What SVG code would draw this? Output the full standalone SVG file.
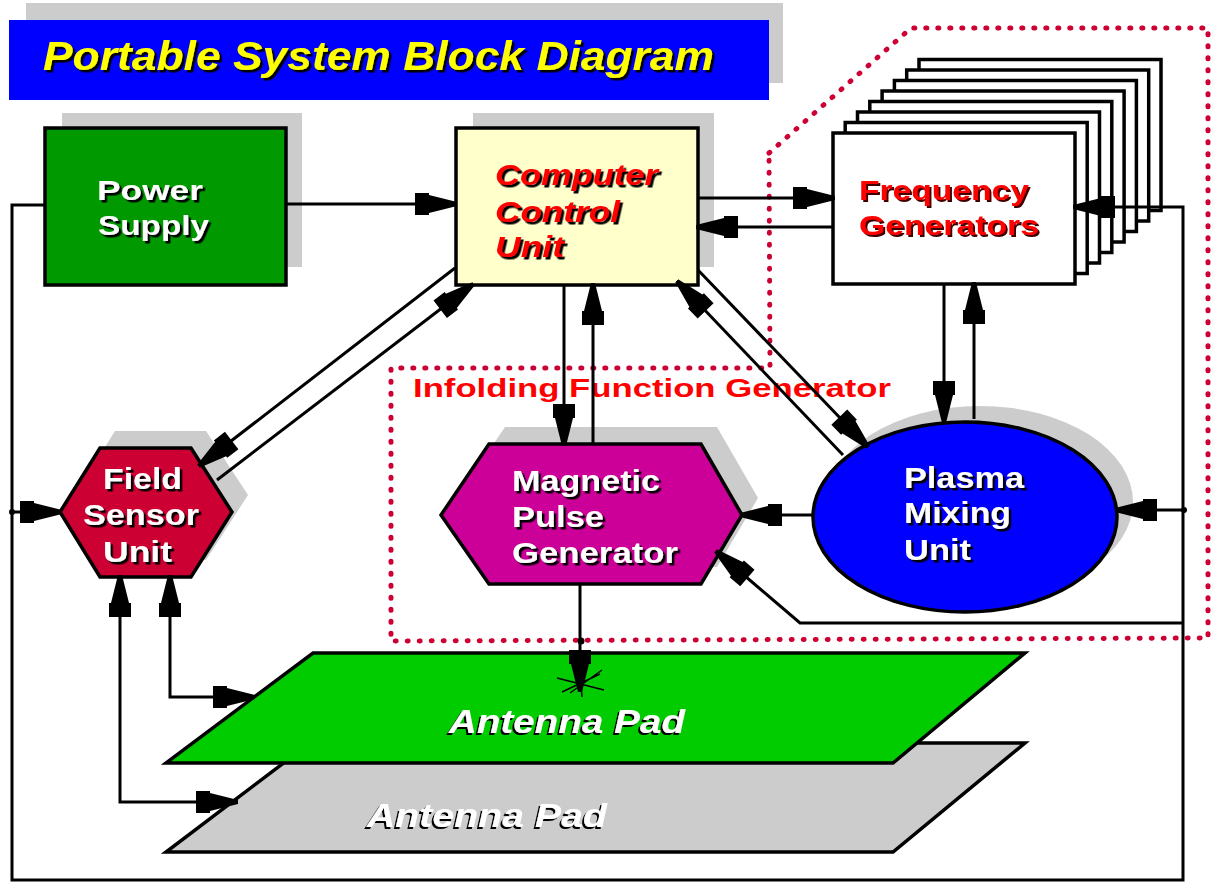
<svg xmlns="http://www.w3.org/2000/svg" width="1213" height="883" viewBox="0 0 1213 883">
<style>
text{font-family:"Liberation Sans",Arial,sans-serif;font-weight:bold}
.wt{fill:#fff}
.rd{fill:#ff0000}
.it{font-style:italic}
.ds{filter:url(#ds)}
.dl{filter:url(#dl)}
.dr{filter:url(#dr)}
.box{stroke:#000;stroke-width:3.5}
.gray{fill:#cccccc}
.conn{fill:none;stroke:#000;stroke-width:3}
.thin{fill:none;stroke:#000;stroke-width:1.5}
.dot{fill:none;stroke:#cc0033;stroke-width:5;stroke-dasharray:1 11;stroke-linecap:round}
</style>
<defs>
<filter id="ds" x="-10%" y="-20%" width="120%" height="150%"><feDropShadow dx="2.5" dy="2.5" stdDeviation="0" flood-color="#000" flood-opacity="1"/></filter>
<filter id="dr" x="-10%" y="-20%" width="120%" height="150%"><feDropShadow dx="2" dy="2" stdDeviation="0" flood-color="#400000" flood-opacity="1"/></filter>
<filter id="dl" x="-10%" y="-20%" width="120%" height="150%"><feDropShadow dx="-2" dy="2" stdDeviation="0" flood-color="#000" flood-opacity="1"/></filter>
<marker id="ah" markerUnits="userSpaceOnUse" markerWidth="46" markerHeight="26" viewBox="-44 -13 46 26" refX="0" refY="0" orient="auto-start-reverse">
<path d="M2,-2 L2,2 L-26,9 L-26,11 L-40,11 L-40,-11 L-26,-11 L-26,-9 Z" fill="#000"/>
</marker>
</defs>
<rect width="1213" height="883" fill="#fff"/>

<g id="title">
<rect x="26" y="3" width="757" height="80" class="gray"/>
<rect x="9" y="20" width="760" height="80" fill="#0000ff"/>
<text x="43" y="70" font-size="40" class="it ds" fill="#ffff00" textLength="671" lengthAdjust="spacingAndGlyphs">Portable System Block Diagram</text>
</g>

<g id="dotted-regions">
<polygon class="dot" points="769,153 911,28 1208,28 1208,638 391,641 391,368 770,368"/>
<text x="413" y="397" font-size="26" class="rd" textLength="478" lengthAdjust="spacingAndGlyphs">Infolding Function Generator</text>
</g>

<g id="power-supply">
<rect x="62" y="113" width="240" height="154" class="gray"/>
<rect x="45" y="128" width="241" height="157" fill="#009900" class="box"/>
<text x="97" y="200" font-size="28" class="wt ds" textLength="106" lengthAdjust="spacingAndGlyphs">Power</text>
<text x="98" y="235" font-size="28" class="wt ds" textLength="111" lengthAdjust="spacingAndGlyphs">Supply</text>
</g>

<g id="computer-control-unit">
<rect x="473" y="113" width="241" height="154" class="gray"/>
<rect x="456" y="128" width="242" height="157" fill="#ffffcc" class="box"/>
<text x="495" y="185" font-size="29" class="it rd ds" textLength="163" lengthAdjust="spacingAndGlyphs">Computer</text>
<text x="495" y="222" font-size="29" class="it rd ds" textLength="125" lengthAdjust="spacingAndGlyphs">Control</text>
<text x="495" y="257" font-size="29" class="it rd ds" textLength="69" lengthAdjust="spacingAndGlyphs">Unit</text>
</g>

<g id="frequency-generators">
<rect x="919" y="59.5" width="242" height="151" fill="#fff" class="box"/>
<rect x="906.7" y="70" width="242" height="151" fill="#fff" class="box"/>
<rect x="894.4" y="80.5" width="242" height="151" fill="#fff" class="box"/>
<rect x="882.1" y="91" width="242" height="151" fill="#fff" class="box"/>
<rect x="869.8" y="101.5" width="242" height="151" fill="#fff" class="box"/>
<rect x="857.5" y="112" width="242" height="151" fill="#fff" class="box"/>
<rect x="845.2" y="122.5" width="242" height="151" fill="#fff" class="box"/>
<rect x="833" y="133" width="242" height="151" fill="#fff" class="box"/>
<text x="859" y="200" font-size="28" class="rd dr" textLength="170" lengthAdjust="spacingAndGlyphs">Frequency</text>
<text x="859" y="235" font-size="28" class="rd dr" textLength="180" lengthAdjust="spacingAndGlyphs">Generators</text>
</g>

<g id="field-sensor-unit">
<polygon points="115,431 206,431 248,495 206,560 115,560 75,495" class="gray"/>
<polygon points="100,448 191,448 232,512 191,577 100,577 60,512" fill="#cc0033" class="box"/>
<text x="103" y="489" font-size="29" class="wt ds" textLength="79" lengthAdjust="spacingAndGlyphs">Field</text>
<text x="83" y="525" font-size="29" class="wt ds" textLength="116" lengthAdjust="spacingAndGlyphs">Sensor</text>
<text x="103" y="562" font-size="29" class="wt ds" textLength="69" lengthAdjust="spacingAndGlyphs">Unit</text>
</g>

<g id="magnetic-pulse-generator">
<polygon points="505,427 717,427 758,498 717,567 505,567 457,498" class="gray"/>
<polygon points="489,444 701,444 742,515 701,584 489,584 441,515" fill="#cc0099" class="box"/>
<text x="512" y="491" font-size="29" class="wt ds" textLength="148" lengthAdjust="spacingAndGlyphs">Magnetic</text>
<text x="512" y="527" font-size="29" class="wt ds" textLength="92" lengthAdjust="spacingAndGlyphs">Pulse</text>
<text x="512" y="563" font-size="29" class="wt ds" textLength="166" lengthAdjust="spacingAndGlyphs">Generator</text>
</g>

<g id="plasma-mixing-unit">
<ellipse cx="980" cy="502" rx="153" ry="96" class="gray"/>
<ellipse cx="965" cy="517" rx="152" ry="95" fill="#0000ff" class="box"/>
<text x="904" y="488" font-size="29" class="wt ds" textLength="120" lengthAdjust="spacingAndGlyphs">Plasma</text>
<text x="904" y="523" font-size="29" class="wt ds" textLength="107" lengthAdjust="spacingAndGlyphs">Mixing</text>
<text x="904" y="560" font-size="29" class="wt ds" textLength="67" lengthAdjust="spacingAndGlyphs">Unit</text>
</g>

<g id="antenna-pad-back">
<polygon points="310,743 1025,743 893,852 166,852" class="gray box"/>
<text x="367" y="827" font-size="34" class="it wt dl" textLength="240" lengthAdjust="spacingAndGlyphs">Antenna Pad</text>
</g>

<g id="antenna-pad-front">
<polygon points="313,653 1025,653 893,763 166,763" fill="#00cc00" class="box"/>
<text x="449" y="733" font-size="34" class="it wt dl" textLength="236" lengthAdjust="spacingAndGlyphs">Antenna Pad</text>
</g>

<g id="connectors">
<path class="conn" d="M286,204 L455,204" marker-end="url(#ah)"/>
<path class="conn" d="M45,205 L12,205 L12,880 L1183,880 L1183,207 L1075,207" marker-end="url(#ah)"/>
<path class="conn" d="M12,512 L60,512" marker-end="url(#ah)"/>
<circle cx="12" cy="512" r="3" fill="#000"/>
<path class="conn" d="M1183,510 L1117,510" marker-end="url(#ah)"/>
<circle cx="1184" cy="510" r="3" fill="#000"/>
<path class="conn" d="M1183,623 L800,623 L717,552" marker-end="url(#ah)"/>
<path class="conn" d="M698,198 L833,198" marker-end="url(#ah)"/>
<path class="conn" d="M833,227 L698,227" marker-end="url(#ah)"/>
<path class="conn" d="M564,285 L564,444" marker-end="url(#ah)"/>
<path class="conn" d="M593,444 L593,285" marker-end="url(#ah)"/>
<path class="conn" d="M455,268 L200,465" marker-end="url(#ah)"/>
<path class="conn" d="M217,480 L472,285" marker-end="url(#ah)"/>
<path class="conn" d="M843,455 L678,282" marker-end="url(#ah)"/>
<path class="conn" d="M698,270 L867,446" marker-end="url(#ah)"/>
<path class="conn" d="M944,284 L944,421" marker-end="url(#ah)"/>
<path class="conn" d="M974,419 L974,284" marker-end="url(#ah)"/>
<path class="conn" d="M813,515 L742,515" marker-end="url(#ah)"/>
<path class="conn" d="M580,584 L580,690" marker-end="url(#ah)"/>
<circle cx="581" cy="641" r="3.5" fill="#000"/>
<path class="thin" d="M557,678 L604,690 M602,670 L570,693 M580,672 L582,697 M562,692 L600,674"/>
<path class="conn" d="M170,577 L170,697 L253,697" marker-start="url(#ah)" marker-end="url(#ah)"/>
<path class="conn" d="M120,577 L120,802 L236,802" marker-start="url(#ah)" marker-end="url(#ah)"/>
</g>
</svg>
